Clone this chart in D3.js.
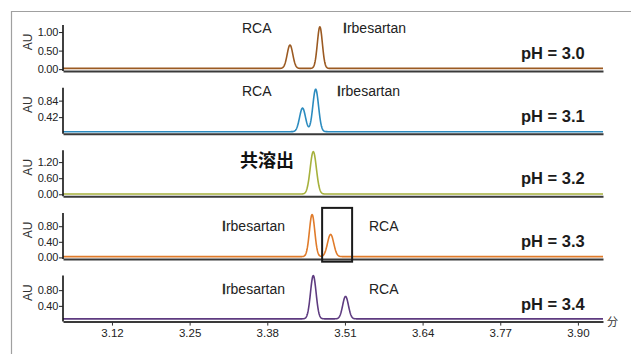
<!DOCTYPE html>
<html>
<head>
<meta charset="utf-8">
<script src="https://cdn.jsdelivr.net/npm/d3@7"></script>
<style>
  html, body { margin: 0; padding: 0; background: #fff; }
  svg { display: block; font-family: "Liberation Sans", Arial, Helvetica, sans-serif; }
  .tick text { fill: #222; }
</style>
</head>
<body>
<svg id="chart" width="631" height="354"></svg>
<script>
// --- chromatogram data (retention time in minutes, absorbance in AU) ---
const phLabels    = ["pH = 3.0", "pH = 3.1", "pH = 3.2", "pH = 3.3", "pH = 3.4"];
const rcaTimes    = [3.418, 3.439, 3.457, 3.486, 3.511];
const rcaHeights  = [0.63, 0.60, 0.00, 0.57, 0.57];
const rcaWidths   = [0.0047, 0.0050, 0.0050, 0.0052, 0.0048];
const irbTimes    = [3.468, 3.461, 3.457, 3.455, 3.457];
const irbHeights  = [1.12, 1.08, 1.58, 1.08, 1.10];
const irbWidths   = [0.0042, 0.0048, 0.0052, 0.0045, 0.0047];
const baselines   = [0.02, 0.05, 0.01, 0.02, 0.07];
const yDomains    = [[-0.05, 1.19], [0, 1.17], [-0.075, 1.64], [-0.04, 1.14], [0, 1.17]];
const yTickValues = [[0, 0.5, 1.0], [0.42, 0.84], [0, 0.6, 1.2], [0, 0.4, 0.8], [0.4, 0.8]];
const yTickLabels = [["0.00", "0.50", "1.00"], ["0.42", "0.84"], ["0.00", "0.60", "1.20"], ["0.00", "0.40", "0.80"], ["0.40", "0.80"]];
const xDomain     = [3.038, 3.942];
const xTicks      = [3.12, 3.25, 3.38, 3.51, 3.64, 3.77, 3.90];
const lineColors  = ["#9b5a22", "#2b8bbf", "#a6b13c", "#e07b2a", "#5e3b80"];
// peak names drawn in each panel: [left label, right label]
const peakNames   = [["RCA", "Irbesartan"], ["RCA", "Irbesartan"], ["共溶出", ""], ["Irbesartan", "RCA"], ["Irbesartan", "RCA"]];
// highlighted RCA peak at pH 3.3 (panel index, time range, AU range)
const highlightPanel = 3;
const highlightTimes = [3.4718, 3.522];
const highlightAU    = [-0.11, 1.27];

// --- layout ---
const svg = d3.select("#chart");
const left = 63, right = 603;
const panelTop0 = 25, panelStep = 62.65, panelH = 46;

// outer frame (open to the right and bottom)
svg.append("path")
  .attr("d", "M11.5,354 V11.5 H631")
  .attr("fill", "none").attr("stroke", "#a0a0a0").attr("stroke-width", 1.2);

const x = d3.scaleLinear().domain(xDomain).range([left, right]);

// sampling grid for the detector trace
const tGrid = d3.range(xDomain[0], xDomain[1] + 1e-9, 0.0005);
const gauss = (t, mu, h, s) => h * Math.exp(-((t - mu) ** 2) / (2 * s * s));

phLabels.forEach((ph, i) => {
  const top = panelTop0 + i * panelStep;
  const bottom = top + panelH;
  const y = d3.scaleLinear().domain(yDomains[i]).range([bottom, top]);
  const g = svg.append("g");

  // trace
  const pts = tGrid.map(t => [t,
    baselines[i] + gauss(t, rcaTimes[i], rcaHeights[i], rcaWidths[i]) +
    gauss(t, irbTimes[i], irbHeights[i], irbWidths[i])]);
  g.append("path")
    .datum(pts)
    .attr("fill", "none")
    .attr("stroke", lineColors[i])
    .attr("stroke-width", 1.6)
    .attr("stroke-linejoin", "round")
    .attr("d", d3.line().x(d => x(d[0])).y(d => y(d[1])));

  // x axis line (ticks only on the last panel)
  const last = i === phLabels.length - 1;
  const xAxis = d3.axisBottom(x)
    .tickValues(last ? xTicks : [])
    .tickFormat(d3.format(".2f"))
    .tickSize(4).tickSizeOuter(0).tickPadding(3);
  const xg = g.append("g").attr("transform", `translate(0,${bottom})`).call(xAxis);
  xg.select(".domain").attr("stroke", "#3a3a3a").attr("stroke-width", 2);
  xg.selectAll(".tick line").attr("stroke", "#333");
  xg.selectAll(".tick text").attr("font-size", 11.5).attr("font-family", "Liberation Sans, Arial, sans-serif");

  // y axis
  const yAxis = d3.axisLeft(y)
    .tickValues(yTickValues[i])
    .tickFormat((d, k) => yTickLabels[i][k])
    .tickSize(4).tickSizeOuter(0).tickPadding(1);
  const yg = g.append("g").attr("transform", `translate(${left},0)`).call(yAxis);
  yg.select(".domain").attr("stroke", "#111").attr("stroke-width", 1.6)
    .attr("d", `M0,${top}V${bottom}`);
  yg.selectAll(".tick line").attr("stroke", "#222");
  yg.selectAll(".tick text").attr("font-size", 11).attr("letter-spacing", -0.3)
    .attr("font-family", "Liberation Sans, Arial, sans-serif");

  // AU label
  g.append("text")
    .attr("transform", `translate(32,${top + 17}) rotate(-90)`)
    .attr("text-anchor", "middle")
    .attr("font-size", 12).attr("fill", "#333")
    .text("AU");

  // pH label
  g.append("text")
    .attr("x", 521).attr("y", top + 34)
    .attr("font-size", 16.5).attr("font-weight", "bold").attr("fill", "#1b1b1b")
    .text(ph);

  // peak names
  const [lName, rName] = peakNames[i];
  const labelY = (i === 0 || i === 1) ? top + 8 : top + 18;
  const nameText = (sel, name) => {
    if (name.startsWith("I")) {
      // the leading capital is set slightly heavier
      sel.append("tspan").attr("stroke", "#222").attr("stroke-width", 0.6).text("I");
      sel.append("tspan").text(name.slice(1));
    } else {
      sel.text(name);
    }
  };
  if (i === 2) {
    g.append("text")
      .attr("x", 240).attr("y", top + 16.5)
      .attr("font-family", "'Noto Sans CJK JP', 'Noto Sans CJK SC', sans-serif")
      .attr("font-size", 18).attr("font-weight", "bold").attr("fill", "#111")
      .text(lName);
  } else {
    const lx = lName === "RCA" ? 242 : 222;
    const rx = rName === "RCA" ? 369 : (i === 0 ? 343 : 337);
    nameText(g.append("text").attr("x", lx).attr("y", labelY)
      .attr("font-size", 14).attr("fill", "#222"), lName);
    nameText(g.append("text").attr("x", rx).attr("y", labelY)
      .attr("font-size", 14).attr("fill", "#222"), rName);
  }

  // highlight box
  if (i === highlightPanel) {
    g.append("rect")
      .attr("x", x(highlightTimes[0])).attr("y", y(highlightAU[1]))
      .attr("width", x(highlightTimes[1]) - x(highlightTimes[0]))
      .attr("height", y(highlightAU[0]) - y(highlightAU[1]))
      .attr("fill", "none").attr("stroke", "#1a1a1a").attr("stroke-width", 2);
  }

  // time unit on the last axis
  if (last) {
    g.append("text")
      .attr("x", 607).attr("y", bottom + 4)
      .attr("font-family", "'Noto Sans CJK JP', sans-serif")
      .attr("font-size", 11).attr("fill", "#333")
      .text("分");
  }
});
</script>
</body>
</html>
